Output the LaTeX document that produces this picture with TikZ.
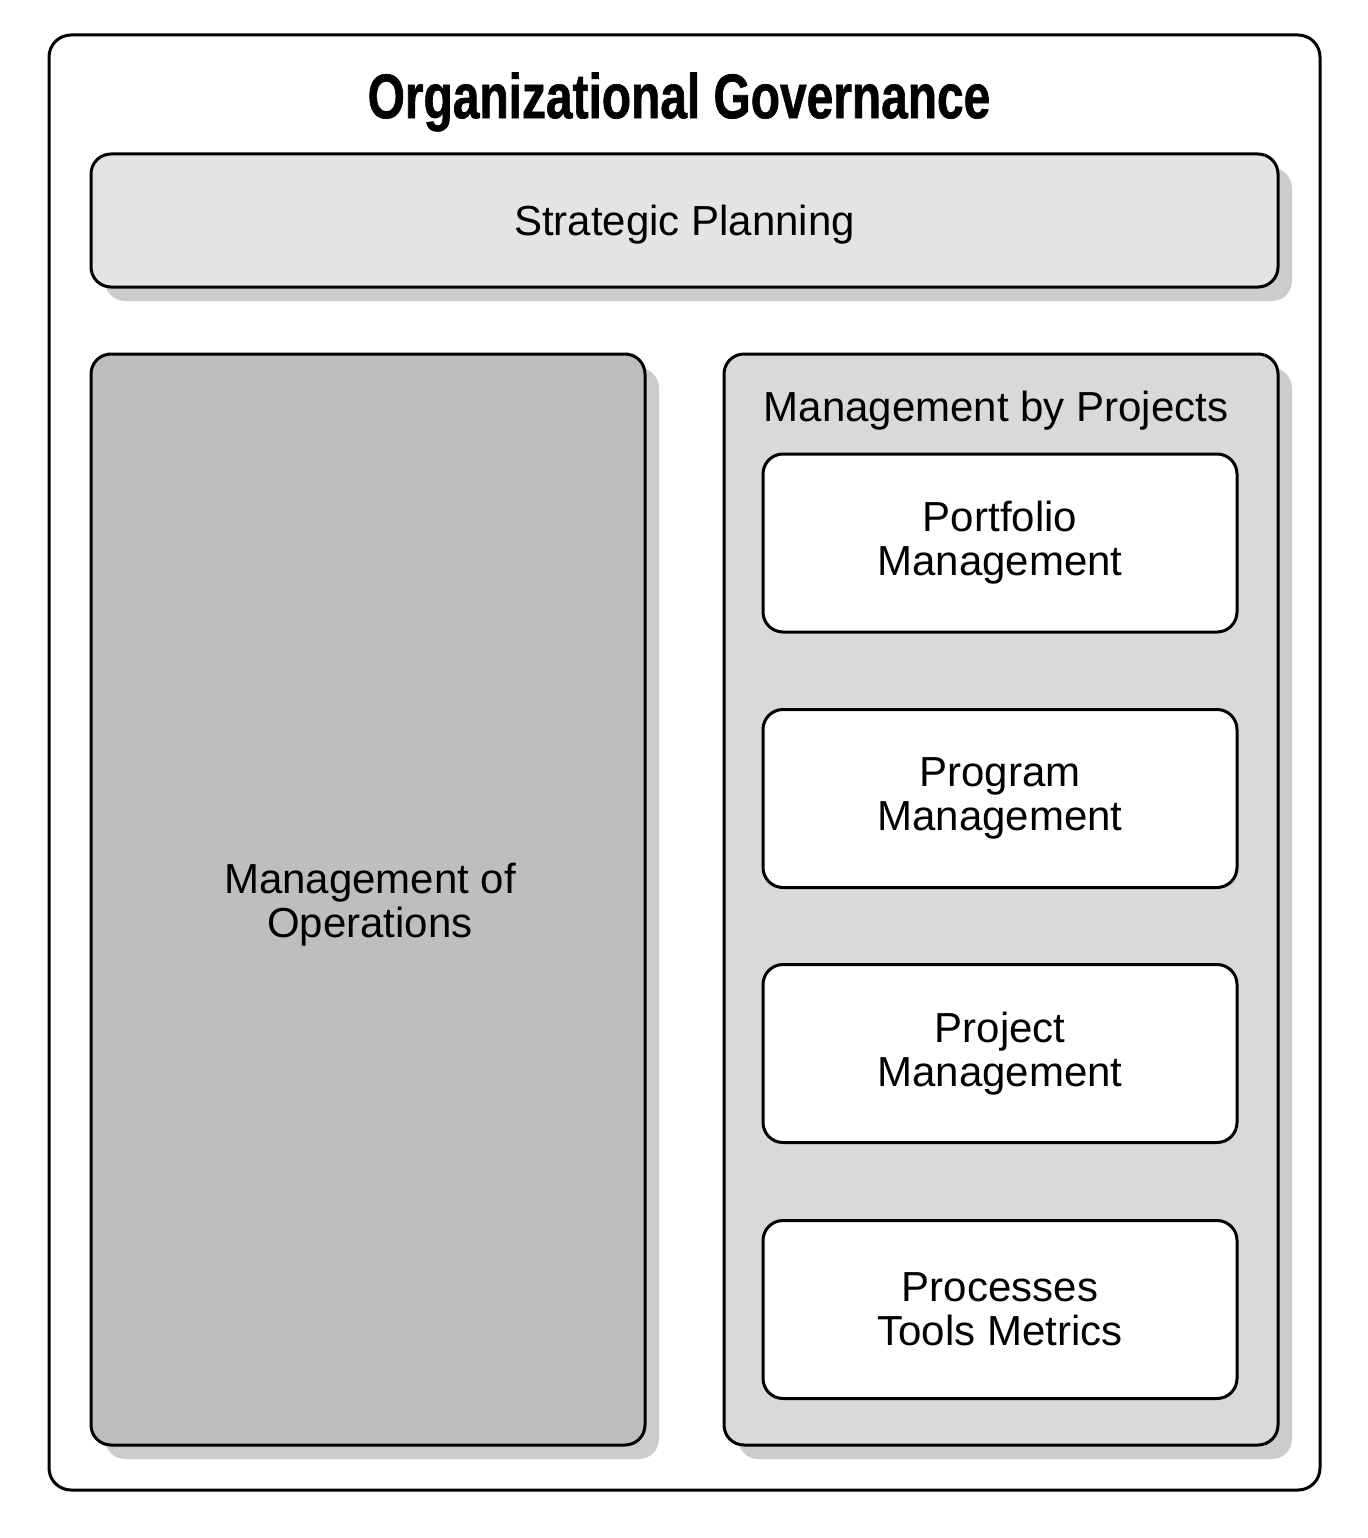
\documentclass[tikz,border=0pt]{standalone}
\usepackage{fontspec}
\setmainfont{Liberation Sans}
\newfontfamily\titlefont[FakeStretch=0.76,FakeBold=1]{Liberation Sans}
\usetikzlibrary{shadows}
\definecolor{planfill}{HTML}{E4E4E4}
\definecolor{opsfill}{HTML}{BEBEBE}
\definecolor{projfill}{HTML}{D9D9D9}
\definecolor{shadowgray}{HTML}{CCCCCC}
\begin{document}
\begin{tikzpicture}[x=1pt,y=-1pt,
  box/.style={draw=black,line width=3pt,rounded corners=20pt,inner sep=0pt,
    font=\fontsize{42}{44}\selectfont,align=center},
  shadowed/.style={general shadow={fill=shadowgray,shadow xshift=14pt,shadow yshift=-14pt}},
  planbox/.style={box,shadowed,fill=planfill},
  opsbox/.style={box,shadowed,fill=opsfill},
  projbox/.style={box,shadowed,fill=projfill},
  innerbox/.style={box,fill=white,minimum width=474pt,minimum height=178pt}]
\useasboundingbox (0,0) rectangle (1367,1538);
%outer frame
\node[box,fill=white,rounded corners=22pt,minimum width=1271pt,minimum height=1455pt] (gov) at (684.5,762.5) {};
\node[font=\titlefont\bfseries\fontsize{63}{63}\selectfont] (govtitle) at (679,102) {Organizational Governance};
\node[planbox,text depth=0pt,minimum width=1187pt,minimum height=133pt] (plan) at (684.5,220.5) {Strategic Planning};
\node[opsbox,minimum width=554pt,minimum height=1091pt] (ops) at (368,899.5) {};
\node[font=\fontsize{42}{44}\selectfont,align=center] (opstext) at (370,905) {Management of\\Operations};
\node[projbox,minimum width=554pt,minimum height=1091pt] (proj) at (1001,899.5) {};
\node[font=\fontsize{42}{44}\selectfont] (projtitle) at (996,411) {Management by Projects};
%inner boxes
\node[innerbox] (portfolio) at (1000,543) {Portfolio\\Management};
\node[innerbox] (program) at (1000,798.5) {Program\\Management};
\node[innerbox] (project) at (1000,1053.5) {Project\\Management};
\node[innerbox] (tools) at (1000,1309.5) {Processes\\Tools Metrics};
\end{tikzpicture}
\end{document}
